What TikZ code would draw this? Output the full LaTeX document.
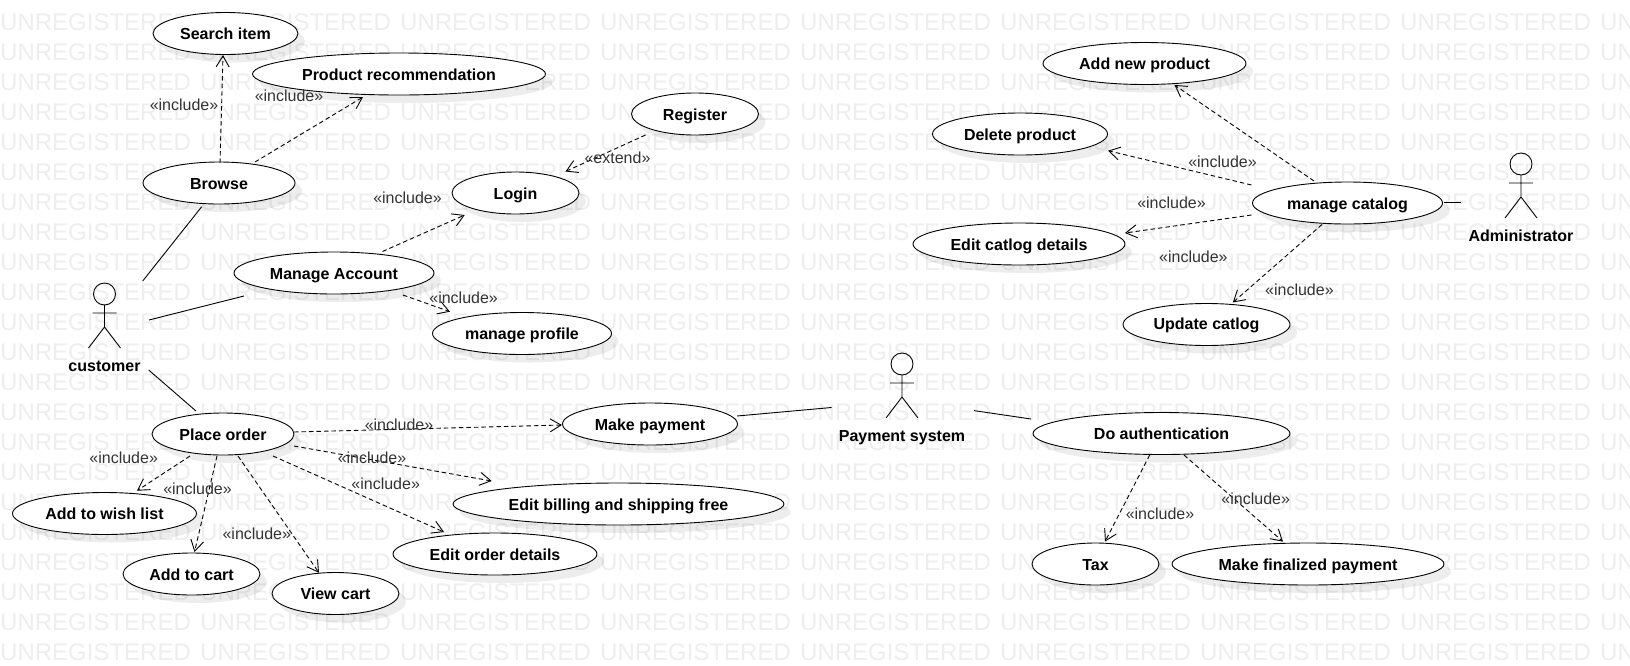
\documentclass[tikz,border=0pt]{standalone}
\usepackage{fontspec}
\setmainfont{Liberation Sans}
\usepackage{xcolor}
\usepackage{tikz}
\usetikzlibrary{arrows.meta,shapes.geometric,shadows}
\definecolor{stamp}{HTML}{EEEEEE}
\definecolor{inctext}{HTML}{333333}

\begin{document}
\begin{tikzpicture}[x=1pt,y=-1pt, usecase/.style={draw=black, fill=white, ellipse, inner sep=0pt, line width=0.9pt, minimum height=42pt, text height=12.2pt, text depth=0pt, font=\fontsize{16}{19}\selectfont\bfseries, drop shadow={shadow xshift=7pt, shadow yshift=-8pt, opacity=0.07, fill=black}}, incl/.style={inner sep=0pt, text=inctext, font=\fontsize{16}{19}\selectfont}, dep/.style={-{Straight Barb[length=11pt,width=13pt]}, dash pattern=on 4.5pt off 3pt, draw=black, line width=0.9pt}, assoc/.style={draw=black, line width=0.9pt}, actorbox/.style={inner sep=0pt}, actorname/.style={inner sep=0pt, text height=11.5pt, text depth=0pt, font=\fontsize{16}{19}\selectfont\bfseries}, stampword/.style={anchor=west, inner sep=0pt, text=stamp, font=\fontsize{24}{28}\selectfont}]
\useasboundingbox (0,0) rectangle (1630,665);
\fill[white] (0,0) rectangle (1630,665);
\foreach \row in {0,...,21} {
  \foreach \col in {0,...,8} {
    \node[stampword] (stamp\row x\col) at (200*\col,22+30*\row) {UNREGISTERED};
  }
}
\node[usecase, minimum width=145pt] (search) at (225.5,33.5) {Search item};
\node[usecase, minimum width=293pt] (recommend) at (399,74) {Product recommendation};
\node[usecase, minimum width=152pt] (browse) at (219,183) {Browse};
\node[usecase, minimum width=127pt] (register) at (695,114) {Register};
\node[usecase, minimum width=127pt] (login) at (515.5,193) {Login};
\node[usecase, minimum width=200pt] (account) at (334,273) {Manage Account};
\node[usecase, minimum width=179pt] (profile) at (522,333.5) {manage profile};
\node[usecase, minimum width=142pt] (placeorder) at (223,434) {Place order};
\node[usecase, minimum width=175pt] (payment) at (650,424) {Make payment};
\node[usecase, minimum width=184pt] (wishlist) at (104.5,513.5) {Add to wish list};
\node[usecase, minimum width=137pt] (addcart) at (191.5,574) {Add to cart};
\node[usecase, minimum width=127pt] (viewcart) at (335.5,593.5) {View cart};
\node[usecase, minimum width=204pt] (orderdetails) at (495,554) {Edit order details};
\node[usecase, minimum width=331pt] (billing) at (618.5,504) {Edit billing and shipping free};
\node[usecase, minimum width=257pt] (authen) at (1161.5,433.5) {Do authentication};
\node[usecase, minimum width=127pt] (tax) at (1095.5,564) {Tax};
\node[usecase, minimum width=272pt] (finalized) at (1308,564) {Make finalized payment};
\node[usecase, minimum width=203pt] (addproduct) at (1144.5,63.5) {Add new product};
\node[usecase, minimum width=175pt] (deleteproduct) at (1020,134) {Delete product};
\node[usecase, minimum width=190pt] (catalog) at (1347.5,203) {manage catalog};
\node[usecase, minimum width=212pt] (editcatlog) at (1019,244) {Edit catlog details};
\node[usecase, minimum width=167pt, text height=10.5pt] (updatecatlog) at (1206.5,324.5) {Update catlog};
\node[actorbox, minimum width=86pt, minimum height=90pt] (customer) at (105,325) {};
\node[actorbox, minimum width=142pt, minimum height=60pt] (paysystem) at (902.8,409) {};
\node[actorbox, minimum width=120pt, minimum height=60pt] (admin) at (1521,202) {};
\foreach \nm/\ax/\ay/\txt in {customer/104.5/294/customer, paysystem/902/364/Payment system, admin/1521/164/Administrator} {
  \draw[assoc] (\ax,\ay) circle (11);
  \draw[assoc] (\ax,\ay+11) -- (\ax,\ay+33) (\ax-12,\ay+19) -- (\ax+12,\ay+19) (\ax-16,\ay+54) -- (\ax,\ay+33) -- (\ax+16,\ay+54);
  \node[actorname] (\nm name) at (\ax,\ay+72) {\txt};
}
\draw[assoc] ([shift={(37.7,-44)}]customer.center) -- ([shift={(-17.3,23.7)}]browse.center);
\draw[assoc] ([shift={(44,-5)}]customer.center) -- ([shift={(-90,23)}]account.center);
\draw[assoc] ([shift={(43.7,45)}]customer.center) -- ([shift={(-27,-23)}]placeorder.center);
\draw[assoc] ([shift={(87,-8)}]payment.center) -- ([shift={(-71.2,-1.5)}]paysystem.center);
\draw[assoc] ([shift={(71.2,1.6)}]paysystem.center) -- ([shift={(-130.5,-14.5)}]authen.center);
\draw[assoc] ([shift={(96.5,-1)}]catalog.center) -- (admin.west);
\draw[dep] ([shift={(1,-20)}]browse.center) -- ([shift={(-2.5,21.5)}]search.center);
\draw[dep] ([shift={(36,-21)}]browse.center) -- ([shift={(-36,23)}]recommend.center);
\draw[dep] ([shift={(-49.5,21)}]register.center) -- ([shift={(50,-21.5)}]login.center);
\draw[dep] ([shift={(48.5,-21.5)}]account.center) -- ([shift={(-50.8,22)}]login.center);
\draw[dep] ([shift={(69,22)}]account.center) -- ([shift={(-72,-21.8)}]profile.center);
\draw[dep] ([shift={(71,-2)}]placeorder.center) -- ([shift={(-88,1)}]payment.center);
\draw[dep] ([shift={(71,12)}]placeorder.center) -- ([shift={(-126.8,-23)}]billing.center);
\draw[dep] ([shift={(50,22)}]placeorder.center) -- ([shift={(-51,-22)}]orderdetails.center);
\draw[dep] ([shift={(15,22)}]placeorder.center) -- ([shift={(-16.5,-20.7)}]viewcart.center);
\draw[dep] ([shift={(-6,22)}]placeorder.center) -- ([shift={(3,-22)}]addcart.center);
\draw[dep] ([shift={(-33,22)}]placeorder.center) -- ([shift={(32.5,-22.8)}]wishlist.center);
\draw[dep] ([shift={(-33.5,-22)}]catalog.center) -- ([shift={(30,21.5)}]addproduct.center);
\draw[dep] ([shift={(-96,-18)}]catalog.center) -- ([shift={(88,16.7)}]deleteproduct.center);
\draw[dep] ([shift={(-96,12)}]catalog.center) -- ([shift={(106,-11)}]editcatlog.center);
\draw[dep] ([shift={(-25.5,21.5)}]catalog.center) -- ([shift={(26.3,-22)}]updatecatlog.center);
\draw[dep] ([shift={(-11.8,21.5)}]authen.center) -- ([shift={(9.5,-22.4)}]tax.center);
\draw[dep] ([shift={(22.5,21.5)}]authen.center) -- ([shift={(-25,-22.4)}]finalized.center);
\node[incl] (lab1) at (184,105) {«include»};
\node[incl] (lab2) at (289,95.6) {«include»};
\node[incl] (lab3) at (407.5,197.5) {«include»};
\node[incl] (lab4) at (463.6,297.3) {«include»};
\node[incl] (lab5) at (617.5,158) {«extend»};
\node[incl] (lab6) at (399,425) {«include»};
\node[incl] (lab7) at (372,457.4) {«include»};
\node[incl] (lab8) at (385.7,483.4) {«include»};
\node[incl] (lab9) at (123.7,457.4) {«include»};
\node[incl] (lab10) at (197.5,488.6) {«include»};
\node[incl] (lab11) at (256.8,533.3) {«include»};
\node[incl] (lab12) at (1222.5,162) {«include»};
\node[incl] (lab13) at (1171.5,202.7) {«include»};
\node[incl] (lab14) at (1193.4,256.8) {«include»};
\node[incl] (lab15) at (1299.4,290) {«include»};
\node[incl] (lab16) at (1255.7,499) {«include»};
\node[incl] (lab17) at (1160,513.5) {«include»};
\end{tikzpicture}
\end{document}
